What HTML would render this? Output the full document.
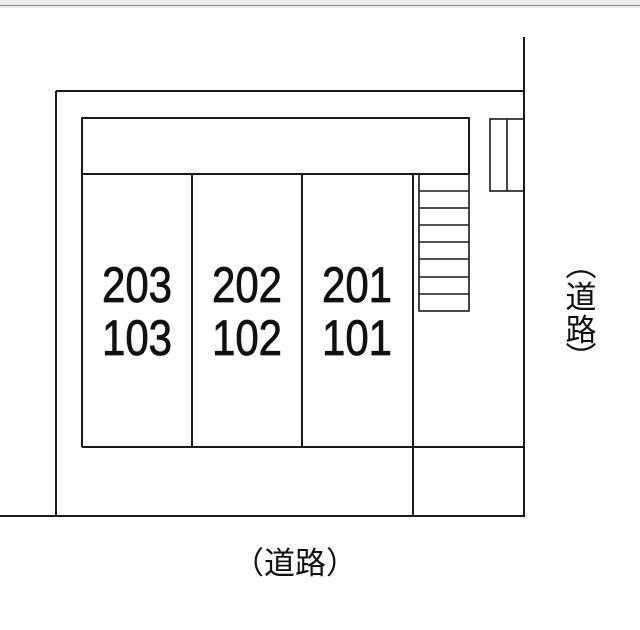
<!DOCTYPE html>
<html><head><meta charset="utf-8"><style>
body{margin:0;background:#fff;}
</style></head><body>
<svg width="640" height="630" xmlns="http://www.w3.org/2000/svg" style="display:block">
<rect x="0" y="0" width="640" height="8" fill="#ececec"/>
<line x1="0" y1="5.5" x2="640" y2="5.5" stroke="#888" stroke-width="1"/>
<g stroke="#1a1a1a" stroke-width="2" fill="none">
<line x1="524" y1="37" x2="524" y2="517"/>
<line x1="56" y1="91" x2="524" y2="91"/>
<line x1="56" y1="91" x2="56" y2="516"/>
<line x1="0" y1="516" x2="524" y2="516"/>
<path d="M82 447 V118 H469 V174"/>
<line x1="82" y1="174" x2="469" y2="174"/>
<line x1="82" y1="447" x2="524" y2="447"/>
<line x1="192" y1="174" x2="192" y2="447"/>
<line x1="302" y1="174" x2="302" y2="447"/>
<line x1="413" y1="174" x2="413" y2="516"/>
<rect x="419" y="174" width="50" height="137" stroke-width="1.6"/>
<g stroke-width="1.6">
<line x1="419" y1="191" x2="469" y2="191"/>
<line x1="419" y1="208" x2="469" y2="208"/>
<line x1="419" y1="225" x2="469" y2="225"/>
<line x1="419" y1="242" x2="469" y2="242"/>
<line x1="419" y1="259" x2="469" y2="259"/>
<line x1="419" y1="277" x2="469" y2="277"/>
<line x1="419" y1="294" x2="469" y2="294"/>
</g>
<rect x="490" y="119" width="34" height="72" stroke-width="1.6"/>
<line x1="507" y1="119" x2="507" y2="191" stroke-width="1.6"/>
</g>
<g font-family="Liberation Sans, sans-serif" font-size="50" fill="#111" stroke="#111" stroke-width="0.8" text-anchor="middle">
<g transform="translate(137,0) scale(0.84,1)"><text x="0" y="302">203</text><text x="0" y="355">103</text></g>
<g transform="translate(247,0) scale(0.84,1)"><text x="0" y="302">202</text><text x="0" y="355">102</text></g>
<g transform="translate(357,0) scale(0.84,1)"><text x="0" y="302">201</text><text x="0" y="355">101</text></g>
</g>
<g font-family="Noto Sans CJK JP, sans-serif" font-size="31" fill="#111" text-anchor="middle">
<text x="295" y="574">（道路）</text>
<text x="581" y="276">︵</text>
<text x="581" y="308">道</text>
<text x="581" y="341">路</text>
<text x="581" y="369">︶</text>
</g>
</svg>
</body></html>
